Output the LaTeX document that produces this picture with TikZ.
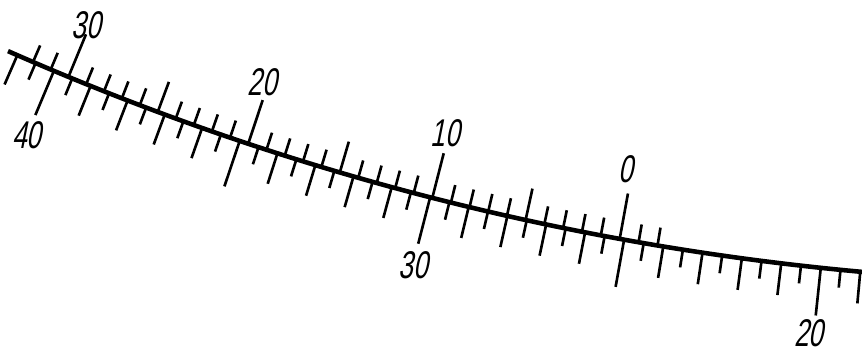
\documentclass[tikz,border=0pt]{standalone}
\usepackage{fontspec}
\newfontfamily\dialfont{Liberation Sans}[FakeStretch=0.68,FakeSlant=0.2]

\begin{document}
\begin{tikzpicture}[x=0.02cm, y=-0.02cm,
    scaleline/.style={line width=2.6pt},
    tickmark/.style={line width=1.5pt},
    scalelabel/.style={font=\dialfont\fontsize{22}{22}\selectfont, inner sep=0pt}]
    \useasboundingbox (0,0) rectangle (862,356);
    \clip (0,0) rectangle (862,356);

    \begin{scope}[shift={(1108,-2443)}]
    % Scale line (arc of a large circle)
    \draw[scaleline] (113.8:2726) arc[start angle=113.8, end angle=94, radius=2726];

    % Upper ticks (one per unit)
    \foreach \v in {-2,...,32} {
      \pgfmathsetmacro{\ang}{100.32+0.4033*\v}
      \pgfmathsetmacro{\rin}{2726-ifthenelse(mod(\v,10)==0,46,ifthenelse(mod(\v,5)==0,32,18))}
      \draw[tickmark] (\ang:2726) -- (\ang:\rin);
    }

    % Lower ticks (one per half unit)
    \foreach \i in {38,...,82} {
      \pgfmathsetmacro{\ang}{104.4+0.4175*(\i-60)}
      \pgfmathsetmacro{\rout}{2726+ifthenelse(mod(\i,10)==0,48,ifthenelse(mod(\i,2)==0,32,18))}
      \draw[tickmark] (\ang:2726) -- (\ang:\rout);
    }

    % Labels
    \node[scalelabel] (up30) at (112.49:2671) {30};
    \node[scalelabel] (up20) at (108.52:2663) {20};
    \node[scalelabel] (up10) at (104.43:2660) {10};
    \node[scalelabel] (up0) at (100.46:2656) {0};

    \node[scalelabel] (low40) at (112.75:2796) {40};
    \node[scalelabel] (low30) at (104.39:2796) {30};
    \node[scalelabel] (low20) at (96.15:2792) {20};
    \end{scope}
\end{tikzpicture}
\end{document}
